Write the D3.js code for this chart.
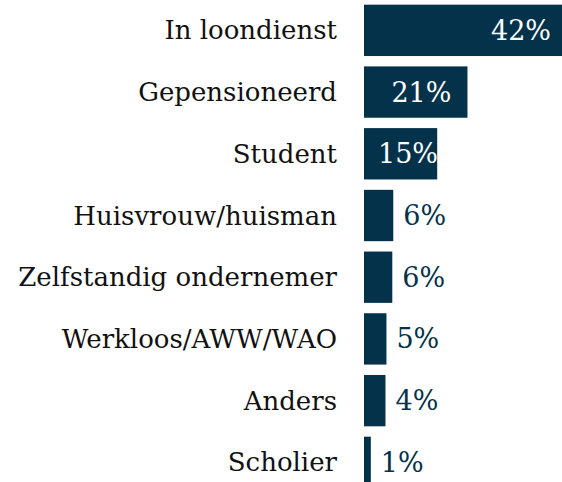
<!DOCTYPE html>
<html>
<head>
<meta charset="utf-8">
<script src="https://cdn.jsdelivr.net/npm/d3@7"></script>
<style>
  html, body { margin: 0; padding: 0; background: #fff; }
  svg { display: block; }
</style>
</head>
<body>
<svg id="chart" width="562" height="482"></svg>
<script>
const categories = ["In loondienst", "Gepensioneerd", "Student", "Huisvrouw/huisman",
  "Zelfstandig ondernemer", "Werkloos/AWW/WAO", "Anders", "Scholier"];
const values = [41.6, 21.2, 15.0, 6.0, 5.8, 4.6, 4.4, 1.4];

const W = 562, H = 482;
const barColor = "#04324b";
const font = "'DejaVu Serif', Georgia, serif";

const svg = d3.select("#chart");

const x = d3.scaleLinear().domain([0, 45]).range([364, 364 + 45 * 4.88]);
const y = d3.scaleBand().domain(categories).range([-0.5, 493.2])
  .paddingInner(0.168).paddingOuter(0.084);

const data = categories.map((c, i) => ({ c, v: values[i] }));

svg.append("g").selectAll("rect").data(data).join("rect")
  .attr("x", x(0))
  .attr("y", d => y(d.c))
  .attr("width", d => x(d.v) - x(0))
  .attr("height", y.bandwidth())
  .attr("fill", barColor);

// category labels
svg.append("g").selectAll("text").data(data).join("text")
  .attr("x", 337)
  .attr("y", d => y(d.c) + y.bandwidth() / 2)
  .attr("dy", "0.35em")
  .attr("text-anchor", "end")
  .attr("font-family", font)
  .attr("font-size", 26)
  .attr("fill", "#111")
  .text(d => d.c);

// value labels
const vl = svg.append("g").selectAll("text").data(data).join("text")
  .attr("y", d => y(d.c) + y.bandwidth() / 2)
  .attr("dy", "0.35em")
  .attr("font-family", font)
  .attr("font-size", 27)
  .text(d => Math.round(d.v) + "%");

vl.each(function(d) {
  const t = d3.select(this);
  const w = this.getComputedTextLength();
  const inside = d.v > 10;
  if (inside) {
    const xe = Math.max(x(d.v) - 16, x(0) + 14 + w);
    t.attr("x", xe).attr("text-anchor", "end").attr("fill", "#fff");
  } else {
    t.attr("x", x(d.v) + 10).attr("text-anchor", "start").attr("fill", barColor);
  }
});
</script>
</body>
</html>
